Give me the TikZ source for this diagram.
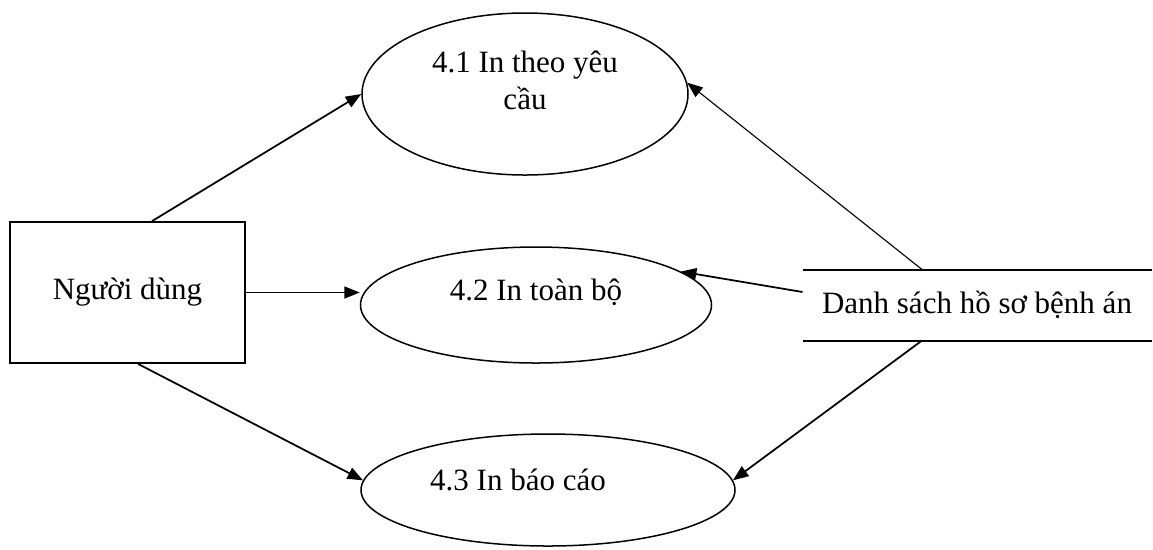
\documentclass[tikz,border=0pt]{standalone}
\usepackage{fontspec}
\setmainfont{Liberation Serif}
\usetikzlibrary{shapes.geometric}
\usetikzlibrary{arrows.meta}
\usetikzlibrary{positioning}

\begin{document}
\begin{tikzpicture}[x=0.4pt, y=-0.4pt,
font=\fontsize{12.4}{14.8}\selectfont,
entity/.style={rectangle, draw, line width=0.7pt, minimum width=94pt, minimum height=56.4pt},
proc/.style={ellipse, draw, line width=0.6pt, inner sep=0pt},
store/.style={rectangle, minimum width=139.2pt, minimum height=28pt, inner sep=0pt},
storeline/.style={line width=0.8pt},
flow/.style={-{Triangle[length=6.2pt, width=4.8pt]}, line width=0.7pt},
thinflow/.style={flow, line width=0.45pt}]
\useasboundingbox (0,0) rectangle (1153,549);

\node[entity] (user) at (127.5,292.5) {Người dùng};

\node[proc, minimum width=130.4pt, minimum height=64.8pt,
  label={[align=center, yshift=5.6pt]center:{4.1 In theo yêu\\cầu}}] (p1) at (525,94) {};
\node[proc, minimum width=140.4pt, minimum height=46.4pt,
  label={[yshift=5.2pt]center:4.2 In toàn bộ}] (p2) at (536,305) {};
\node[proc, minimum width=149.6pt, minimum height=44.8pt,
  label={[xshift=-12pt, yshift=4pt]center:4.3 In báo cáo}] (p3) at (548,490) {};

\node[store] (db) at (977,305) {Danh sách hồ sơ bệnh án};
\draw[storeline] (db.north west) -- (db.north east);
\draw[storeline] (db.south west) -- (db.south east);

\draw[flow] ([xshift=9.8pt]user.north) -- (p1.west);
\draw[flow] (user.east) -- (user.east -| p2.west);
\draw[flow] ([xshift=4.2pt]user.south) -- (p3.177);

\draw[thinflow] ([xshift=-22pt]db.north) -- (p1.4);
\draw[flow] ([yshift=5.2pt]db.west) -- (p2.13);
\draw[flow] ([xshift=-22pt]db.south) -- (p3.3);
\end{tikzpicture}
\end{document}
